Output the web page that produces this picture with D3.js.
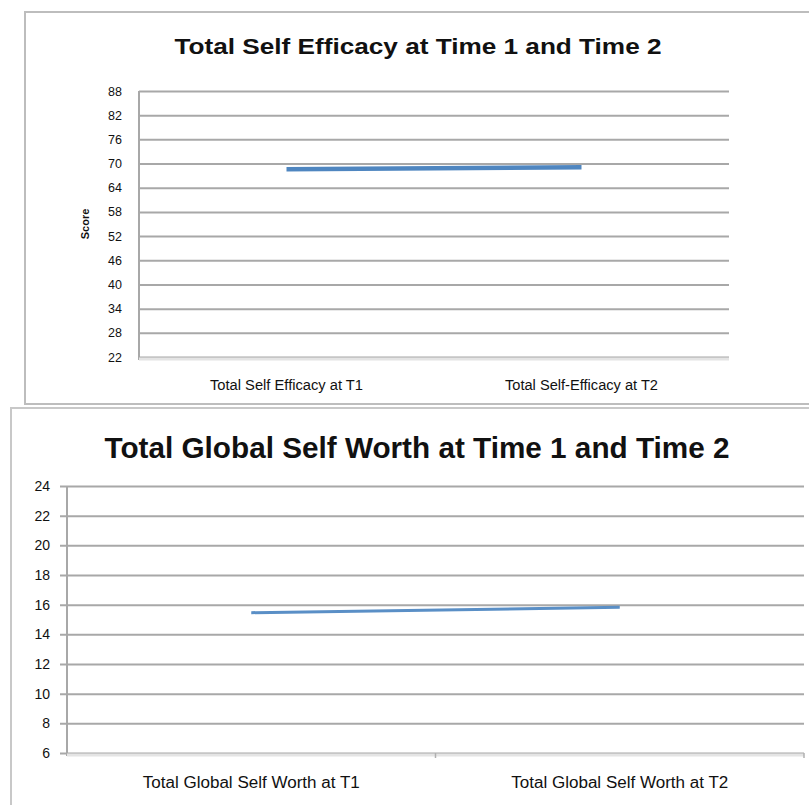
<!DOCTYPE html>
<html>
<head>
<meta charset="utf-8">
<script src="https://cdn.jsdelivr.net/npm/d3@7"></script>
<style>
  html, body { margin: 0; padding: 0; background: #fff; }
  svg { display: block; }
  text { fill: #111; }
</style>
</head>
<body>
<svg id="chart" width="809" height="805"></svg>
<script>
// Self efficacy scores at the two time points
const efficacyCategories = ["Total Self Efficacy at T1", "Total Self-Efficacy at T2"];
const efficacyScores = [68.6, 69.1];
const efficacyTicks = [22, 28, 34, 40, 46, 52, 58, 64, 70, 76, 82, 88];

// Global self worth scores at the two time points
const worthCategories = ["Total Global Self Worth at T1", "Total Global Self Worth at T2"];
const worthScores = [15.46, 15.82];
const worthTicks = [6, 8, 10, 12, 14, 16, 18, 20, 22, 24];

const svg = d3.select("#chart");
const labelFont = "'Liberation Sans', Arial, sans-serif";
const titleFont = "'Liberation Sans', Arial, sans-serif";

// Chart frames
svg.append("rect").attr("x", 25).attr("y", 12).attr("width", 800).attr("height", 392)
  .attr("fill", "#fff").attr("stroke", "#bdbdbd").attr("stroke-width", 2);
svg.append("rect").attr("x", 11).attr("y", 408).attr("width", 820).attr("height", 420)
  .attr("fill", "#fff").attr("stroke", "#c8c8c8").attr("stroke-width", 2);

function drawChart(cfg) {
  const g = svg.append("g");
  const x = d3.scalePoint().domain(cfg.categories).range([cfg.left, cfg.right]).padding(0.5);
  const y = d3.scaleLinear().domain([cfg.ticks[0], cfg.ticks[cfg.ticks.length - 1]])
    .range([cfg.bottom, cfg.top]);

  // Title
  g.append("text")
    .attr("x", cfg.titleX).attr("y", cfg.titleY)
    .attr("text-anchor", "middle")
    .attr("font-family", titleFont)
    .attr("font-weight", "bold")
    .attr("font-size", cfg.titleSize)
    .attr("textLength", cfg.titleWidth)
    .attr("lengthAdjust", "spacingAndGlyphs")
    .text(cfg.title);

  // Horizontal gridlines with value labels
  const yAxis = d3.axisLeft(y).tickValues(cfg.ticks)
    .tickSize(-(cfg.right - cfg.left) - cfg.tickOut)
    .tickPadding(cfg.labelGap)
    .tickFormat(d3.format("d"));
  const ya = g.append("g")
    .attr("transform", `translate(${cfg.left - cfg.tickOut},0)`)
    .call(yAxis);
  ya.select(".domain").remove();
  ya.selectAll(".tick line")
    .attr("stroke", "#a8a8a8")
    .attr("stroke-width", 2);
  ya.selectAll(".tick text")
    .attr("font-family", labelFont)
    .attr("font-size", cfg.tickSize)
    .attr("fill", "#111");

  // Vertical axis line
  g.append("line")
    .attr("x1", cfg.left).attr("x2", cfg.left)
    .attr("y1", cfg.top).attr("y2", cfg.bottom + 3)
    .attr("stroke", "#a8a8a8").attr("stroke-width", 2);

  // Horizontal axis line
  g.append("line")
    .attr("x1", cfg.left).attr("x2", cfg.right)
    .attr("y1", cfg.bottom + 2).attr("y2", cfg.bottom + 2)
    .attr("stroke", "#e4e4e4").attr("stroke-width", 3);

  // Category dividers on the horizontal axis
  if (cfg.dividers) {
    const mid = (cfg.left + cfg.right) / 2;
    [mid, cfg.right].forEach(px => {
      g.append("line")
        .attr("x1", px).attr("x2", px)
        .attr("y1", cfg.bottom).attr("y2", cfg.bottom + 5)
        .attr("stroke", "#b0b0b0").attr("stroke-width", 1.5);
    });
  }

  // Category labels
  g.selectAll(".cat").data(cfg.categories).join("text")
    .attr("x", d => x(d))
    .attr("y", cfg.catY)
    .attr("text-anchor", "middle")
    .attr("font-family", labelFont)
    .attr("font-size", cfg.catSize)
    .attr("textLength", cfg.catWidth)
    .attr("lengthAdjust", "spacingAndGlyphs")
    .attr("fill", "#111")
    .text(d => d);

  // Y axis title
  if (cfg.yTitle) {
    g.append("text")
      .attr("transform", `translate(${cfg.yTitleX},${(cfg.top + cfg.bottom) / 2}) rotate(-90)`)
      .attr("text-anchor", "middle")
      .attr("font-family", labelFont)
      .attr("font-weight", "bold")
      .attr("font-size", 11)
      .text(cfg.yTitle);
  }

  // Score line
  const line = d3.line().x((d, i) => x(cfg.categories[i])).y(d => y(d));
  g.append("path")
    .datum(cfg.values)
    .attr("d", line)
    .attr("fill", "none")
    .attr("stroke", cfg.lineColor)
    .attr("stroke-width", cfg.lineWidth)
    .attr("stroke-linecap", "butt");
}

drawChart({
  title: "Total Self Efficacy at Time 1 and Time 2",
  titleX: 418, titleY: 54, titleSize: 22, titleWidth: 487,
  categories: efficacyCategories, values: efficacyScores, ticks: efficacyTicks,
  left: 139, right: 729, top: 91, bottom: 357,
  tickOut: 0, labelGap: 17, tickSize: 12.5,
  catY: 390, catSize: 14, catWidth: 153,
  yTitle: "Score", yTitleX: 89,
  lineColor: "#4f86c0", lineWidth: 4.5,
  dividers: false
});

drawChart({
  title: "Total Global Self Worth at Time 1 and Time 2",
  titleX: 417, titleY: 458, titleSize: 30, titleWidth: 625,
  categories: worthCategories, values: worthScores, ticks: worthTicks,
  left: 67, right: 804, top: 486, bottom: 753,
  tickOut: 7, labelGap: 10, tickSize: 14,
  catY: 788, catSize: 16, catWidth: 217,
  yTitle: null,
  lineColor: "#5a8fc6", lineWidth: 3,
  dividers: true
});
</script>
</body>
</html>
